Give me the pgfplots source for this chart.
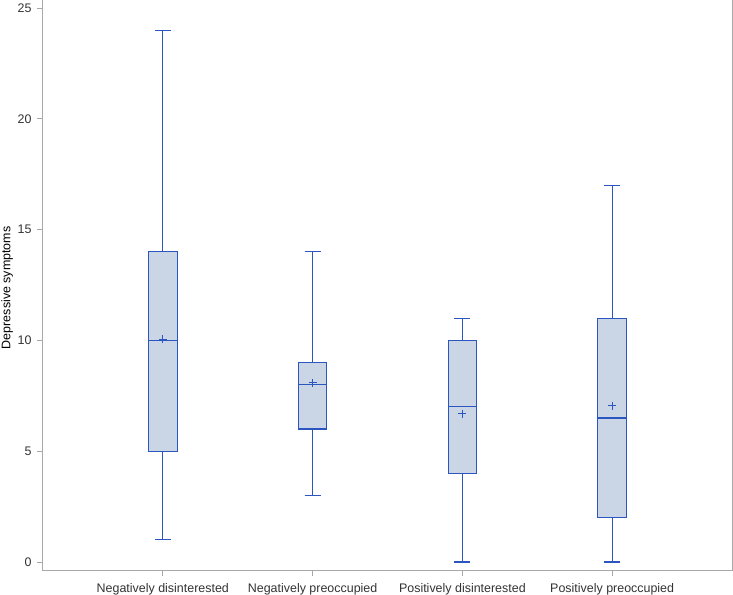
\documentclass[border=0pt]{standalone}
\usepackage{pgfplots}
\pgfplotsset{compat=1.18}
\usepgfplotslibrary{statistics}
\usepackage{fontspec}
\setmainfont{Liberation Sans}
\definecolor{boxfill}{HTML}{CAD5E5}
\definecolor{boxline}{HTML}{2B56C0}
\definecolor{framegray}{HTML}{A8A8A8}
\definecolor{ticktext}{HTML}{333333}
\begin{document}
\begin{tikzpicture}
\begin{axis}[
  scale only axis, width=689bp, height=570bp,
  xmin=-0.8, xmax=3.8, ymin=-0.36, ymax=25.36,
  xtick={0,1,2,3},
  xticklabels={Negatively disinterested, Negatively preoccupied, Positively disinterested, Positively preoccupied},
  ytick={0,5,10,15,20,25},
  tick pos=left, tick align=outside, major tick length=6bp,
  axis line style={framegray, line width=1bp},
  every tick/.style={framegray, line width=0.8bp},
  /pgf/number format/assume math mode=true,
  tick label style={font=\fontsize{12.5}{14}\selectfont, text=ticktext},
  xticklabel style={yshift=-4bp},
  yticklabel style={xshift=-2bp},
  ylabel={Depressive symptoms},
  ylabel style={font=\fontsize{12.5}{14}\selectfont, text=black, at={(axis description cs:-0.0522,0.495)}, anchor=center},
  boxplot/draw direction=y,
  boxplot/box extend=0.19,
  boxplot/whisker extend=0.107,
]
\addplot[boxplot prepared={draw position=0, lower whisker=1, lower quartile=5, median=10, upper quartile=14, upper whisker=24}, draw=boxline, fill=boxfill, line width=1.1bp] coordinates {};
\addplot[boxplot prepared={draw position=1, lower whisker=3, lower quartile=6, median=8, upper quartile=9, upper whisker=14}, draw=boxline, fill=boxfill, line width=1.1bp] coordinates {};
\addplot[boxplot prepared={draw position=2, lower whisker=0, lower quartile=4, median=7, upper quartile=10, upper whisker=11}, draw=boxline, fill=boxfill, line width=1.1bp] coordinates {};
\addplot[boxplot prepared={draw position=3, lower whisker=0, lower quartile=2, median=6.5, upper quartile=11, upper whisker=17}, draw=boxline, fill=boxfill, line width=1.1bp] coordinates {};
\addplot[only marks, mark=+, mark size=4bp, mark options={draw=boxline, line width=0.8bp}] coordinates {(0,10.05) (1,8.1) (2,6.7) (3,7.05)};
\end{axis}
\pgfresetboundingbox
\path (current axis.south west) ++(-43bp,-25bp) rectangle ([xshift=1bp]current axis.north east);
\end{tikzpicture}
\end{document}
